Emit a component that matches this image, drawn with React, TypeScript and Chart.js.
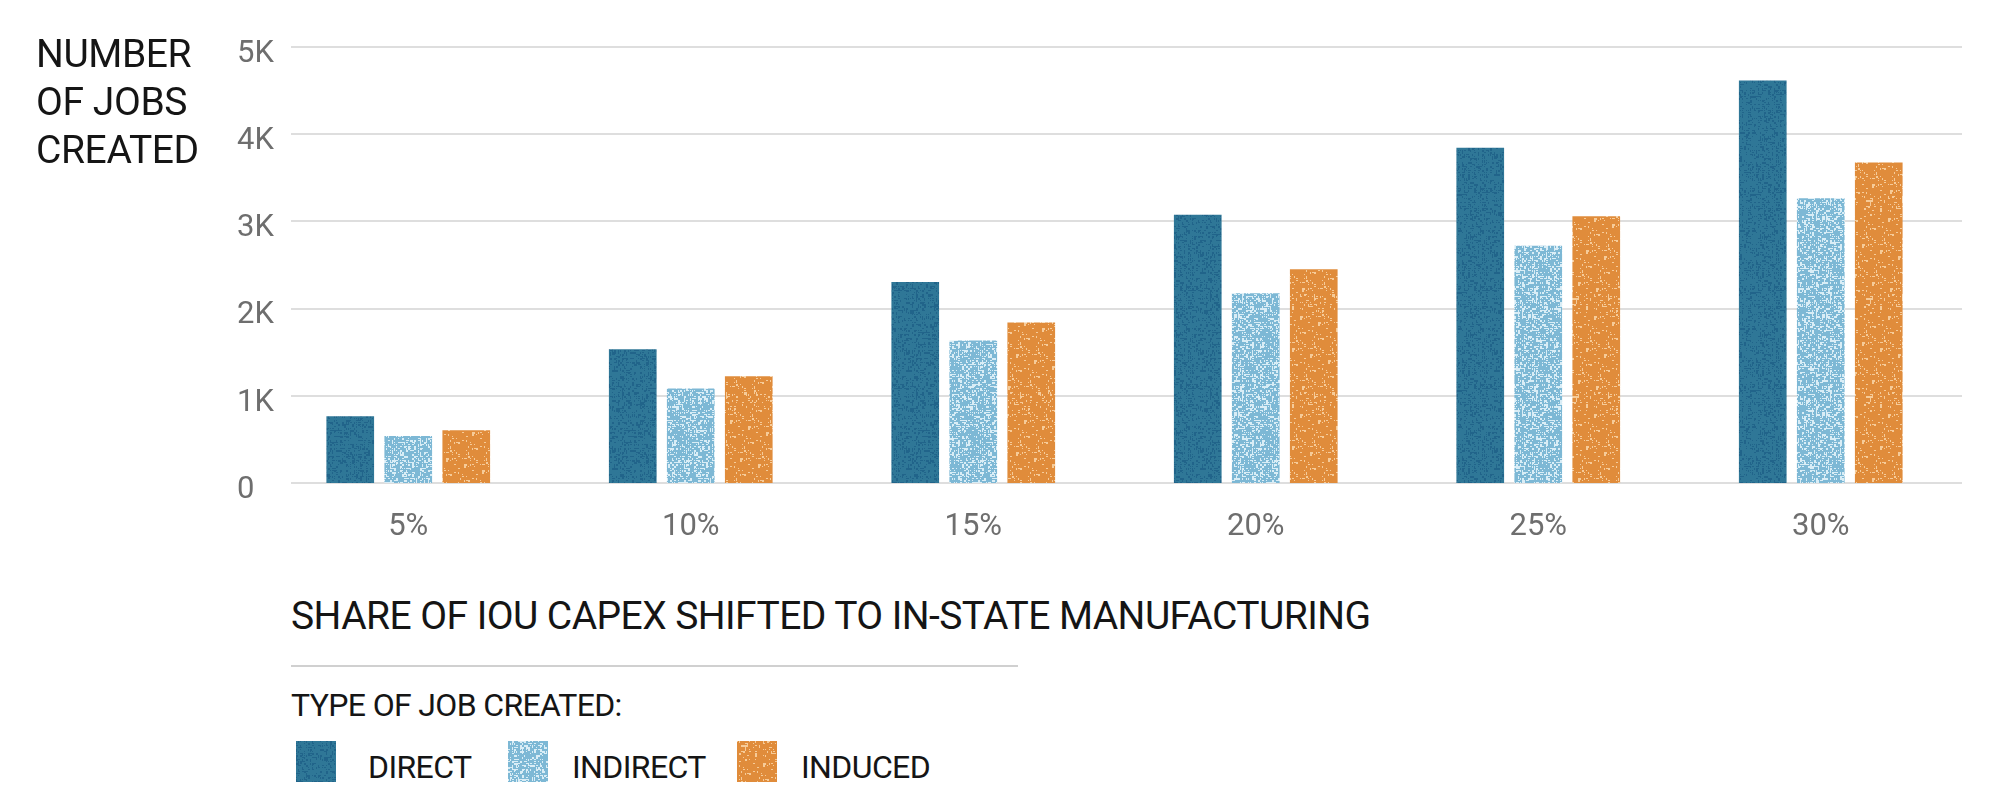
import { useEffect, useRef, useMemo } from 'react'
import { Chart, registerables } from 'chart.js'

Chart.register(...registerables)

// shares of capex shifted (x categories)
const SHARES = ['5%', '10%', '15%', '20%', '25%', '30%']

// jobs created
const DIRECT = [765, 1535, 2305, 3075, 3845, 4615]
const INDIRECT = [540, 1085, 1635, 2175, 2720, 3265]
const INDUCED = [605, 1225, 1840, 2450, 3060, 3675]

const Y_TICKS = [0, 1000, 2000, 3000, 4000, 5000]
const Y_LABELS = ['0', '1K', '2K', '3K', '4K', '5K']

const SERIES = [
  { label: 'DIRECT', data: DIRECT, base: '#2f7797', spot: '#21648a', amount: 0.45, seed: 11 },
  { label: 'INDIRECT', data: INDIRECT, base: '#7db8d5', spot: '#d9edf6', amount: 0.5, seed: 23 },
  { label: 'INDUCED', data: INDUCED, base: '#e08c3b', spot: '#f6cb98', amount: 0.3, seed: 37 },
]

const FONT = 'Roboto, "Noto Sans", sans-serif'

// speckled fill like the printed-paper look of the original
function texture(base: string, spot: string, amount: number, seed: number) {
  const n = 98
  const c = document.createElement('canvas')
  c.width = n
  c.height = n
  const g = c.getContext('2d')!
  g.fillStyle = base
  g.fillRect(0, 0, n, n)
  g.fillStyle = spot
  let s = seed
  const next = () => {
    s = (s * 1103515245 + 12345) & 0x7fffffff
    return s / 0x7fffffff
  }
  for (let y = 0; y < n; y += 2) {
    for (let x = 0; x < n; x += 2) {
      if (next() < amount) {
        const w = next() < 0.5 ? 2 : 1
        const h = next() < 0.5 ? 2 : 1
        g.fillRect(x, y, w, h)
      }
    }
  }
  return c
}

const insetGrid = {
  id: 'insetGrid',
  beforeDatasetsDraw(chart: any) {
    const { ctx, chartArea, scales } = chart
    const y = scales.y
    ctx.save()
    ctx.strokeStyle = '#d3d3d3'
    ctx.lineWidth = 1.5
    y.ticks.forEach((_t: any, i: number) => {
      const py = Math.round(y.getPixelForTick(i))
      ctx.beginPath()
      ctx.moveTo(chartArea.left + 24, py)
      ctx.lineTo(chartArea.right, py)
      ctx.stroke()
    })
    ctx.restore()
  },
}

export default function App() {
  const canvasRef = useRef<HTMLCanvasElement>(null)
  const chartRef = useRef<Chart | null>(null)

  const textures = useMemo(() => SERIES.map((s) => texture(s.base, s.spot, s.amount, s.seed)), [])

  useEffect(() => {
    if (!canvasRef.current) return
    const ctx = canvasRef.current.getContext('2d')!
    chartRef.current?.destroy()
    chartRef.current = new Chart(canvasRef.current, {
      type: 'bar',
      data: {
        labels: SHARES,
        datasets: SERIES.map((s, i) => ({
          label: s.label,
          data: s.data,
          backgroundColor: ctx.createPattern(textures[i], 'repeat') as any,
          borderWidth: 0,
          barPercentage: 0.822,
          categoryPercentage: 0.616,
        })),
      },
      options: {
        animation: false,
        responsive: false,
        maintainAspectRatio: false,
        layout: { padding: { left: 0, right: 38, top: 47, bottom: 0 } },
        plugins: { legend: { display: false }, tooltip: { enabled: false } },
        scales: {
          x: {
            grid: { display: false },
            border: { display: false },
            ticks: { color: '#6e6e6e', font: { family: FONT, size: 31 }, padding: 18 },
            afterFit: (s: any) => { s.height = 77 },
          },
          y: {
            min: 0,
            max: 5000,
            grid: { display: false },
            border: { display: false },
            afterBuildTicks: (s: any) => { s.ticks = Y_TICKS.map((v) => ({ value: v })) },
            ticks: {
              callback: (_v: any, i: number) => Y_LABELS[i],
              mirror: true,
              crossAlign: 'near',
              labelOffset: 7,
              padding: -30,
              color: '#6e6e6e',
              font: { family: FONT, size: 31 },
            },
            afterFit: (s: any) => { s.width = 267 },
          },
        },
      },
      plugins: [insetGrid],
    })
    return () => { chartRef.current?.destroy(); chartRef.current = null }
  }, [textures])

  const swatchLefts = [296, 508, 737]
  const labelLefts = [368, 572, 801]

  return (
    <div style={{ position: 'absolute', left: 0, top: 0, width: 2000, height: 790, background: '#fff', fontFamily: FONT, color: '#151515', overflow: 'hidden' }}>
      <canvas ref={canvasRef} width={2000} height={560} style={{ position: 'absolute', left: 0, top: 0 }} />
      <div style={{ position: 'absolute', left: 36, top: 29.5, fontSize: 39, lineHeight: '48px', letterSpacing: -0.4 }}>
        NUMBER<br />OF JOBS<br />CREATED
      </div>
      <div style={{ position: 'absolute', left: 291, top: 596.5, fontSize: 39, lineHeight: 1, whiteSpace: 'nowrap', letterSpacing: -0.56 }}>
        SHARE OF IOU CAPEX SHIFTED TO IN-STATE MANUFACTURING
      </div>
      <div style={{ position: 'absolute', left: 291, top: 664.5, width: 727, height: 2, background: '#d0d0d0' }} />
      <div style={{ position: 'absolute', left: 291, top: 689, fontSize: 32, lineHeight: 1, whiteSpace: 'nowrap', letterSpacing: -0.65 }}>
        TYPE OF JOB CREATED:
      </div>
      {SERIES.map((s, i) => (
        <div key={s.label}>
          <div style={{ position: 'absolute', left: swatchLefts[i], top: 741, width: 40, height: 41, backgroundImage: `url(${textures[i].toDataURL()})` }} />
          <div style={{ position: 'absolute', left: labelLefts[i], top: 751, fontSize: 32, lineHeight: 1, whiteSpace: 'nowrap', letterSpacing: -0.6 }}>{s.label}</div>
        </div>
      ))}
    </div>
  )
}
